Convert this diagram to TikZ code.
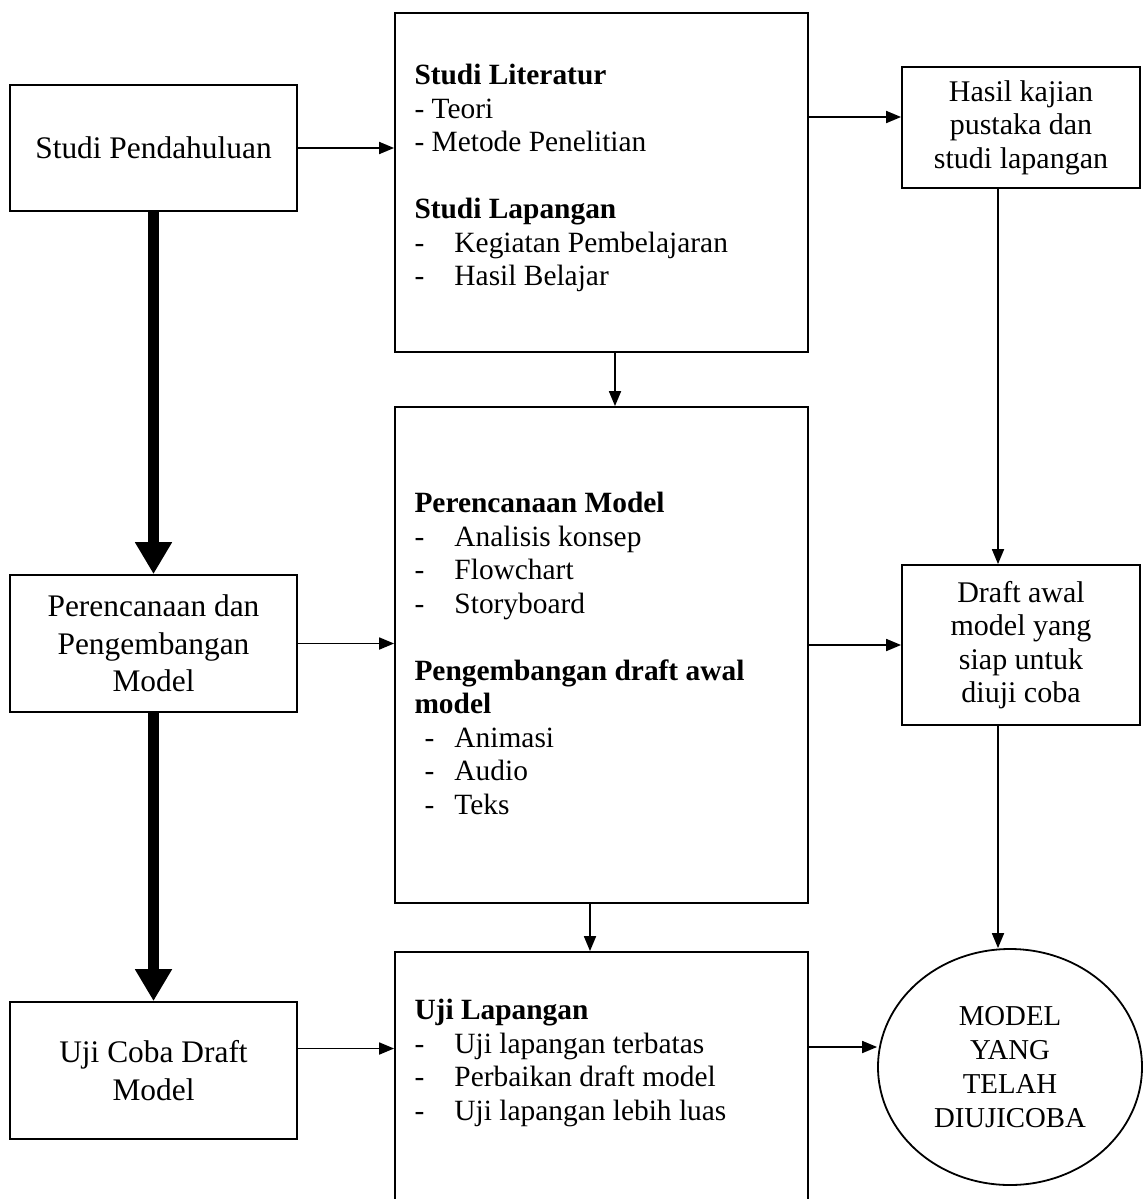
\documentclass[tikz,border=0pt]{standalone}
\usepackage{fontspec}
\setmainfont{Liberation Serif}
\usetikzlibrary{arrows.meta,positioning,shapes.geometric}

\newcommand{\butir}[1]{\makebox[20pt][l]{-}#1}
\newcommand{\butirdalam}[1]{\hspace*{5pt}\makebox[15pt][l]{-}#1}

\begin{document}
\begin{tikzpicture}[x=1pt,y=-1pt,
  kotak/.style={draw,line width=0.9pt,inner sep=0pt,align=center},
  kiri/.style={kotak,minimum width=143.5pt,font=\fontsize{15.7}{18.75}\selectfont},
  tengah/.style={kotak,minimum width=206.5pt},
  kanan/.style={kotak,minimum width=119pt,font=\fontsize{15}{16.75}\selectfont},
  isi/.style={inner sep=0pt,align=left,font=\fontsize{14.7}{16.75}\selectfont},
  panah/.style={line width=0.9pt,-{Triangle[length=7.5pt,width=6pt]}},
  panahtebal/.style={line width=5.5pt,-{Triangle[length=16pt,width=17.5pt]}}]
\useasboundingbox (0,0) rectangle (571.5,599.5);

% kolom kiri
\node[kiri,minimum height=63pt] (pendahuluan) at (76.75,74) {Studi Pendahuluan};
\node[kiri,minimum height=68.5pt] (perencanaan) at (76.75,321.75) {Perencanaan dan\\Pengembangan\\Model};
\node[kiri,minimum height=68.5pt] (ujicoba) at (76.75,535.25) {Uji Coba Draft\\Model};

% kolom tengah
\node[tengah,minimum height=169.5pt] (literatur) at (300.75,91.25) {};
\node[tengah,minimum height=248pt] (rancangan) at (300.75,327.5) {};
\node[tengah,minimum height=131.5pt] (lapangan) at (300.75,541.75) {};
\node[isi,below right=26pt and 10pt of literatur.north west] (isiliteratur) {\textbf{Studi Literatur}\\- Teori\\- Metode Penelitian\\[16.75pt]\textbf{Studi Lapangan}\\\butir{Kegiatan Pembelajaran}\\\butir{Hasil Belajar}};
\node[isi,below right=43pt and 10pt of rancangan.north west] (isirancangan) {\textbf{Perencanaan Model}\\\butir{Analisis konsep}\\\butir{Flowchart}\\\butir{Storyboard}\\[16.75pt]\textbf{Pengembangan draft awal}\\\textbf{model}\\\butirdalam{Animasi}\\\butirdalam{Audio}\\\butirdalam{Teks}};
\node[isi,below right=24pt and 10pt of lapangan.north west] (isilapangan) {\textbf{Uji Lapangan}\\\butir{Uji lapangan terbatas}\\\butir{Perbaikan draft model}\\\butir{Uji lapangan lebih luas}};

% kolom kanan
\node[kanan,minimum height=60.5pt] (kajian) at (510.5,63.75) {Hasil kajian\\pustaka dan\\studi lapangan};
\node[kanan,minimum height=80pt] (draftawal) at (510.5,322.5) {Draft awal\\model yang\\siap untuk\\diuji coba};
\node[draw,ellipse,line width=0.9pt,inner sep=0pt,minimum width=132pt,minimum height=118pt,align=center,font=\fontsize{14.4}{17}\selectfont] (modeljadi) at (505,533.5) {MODEL\\YANG\\TELAH\\DIUJICOBA};

\coordinate (jalurkanan) at (499,0);

% panah
\draw[panah] (pendahuluan.east) -- (pendahuluan.east -| literatur.west);
\draw[panah] ([yshift=5.25pt]kajian.west -| literatur.east) -- ([yshift=5.25pt]kajian.west);
\draw[panah] (kajian.south -| jalurkanan) -- (draftawal.north -| jalurkanan);
\draw[panah] ([xshift=6.75pt]literatur.south) -- ([xshift=6.75pt]rancangan.north);
\draw[panah] (perencanaan.east) -- (perencanaan.east -| rancangan.west);
\draw[panah] (draftawal.west -| rancangan.east) -- (draftawal.west);
\draw[panah] (draftawal.south -| jalurkanan) -- (modeljadi.north -| jalurkanan);
\draw[panah] ([xshift=-5.75pt]rancangan.south) -- ([xshift=-5.75pt]lapangan.north);
\draw[panah] ([yshift=11pt]ujicoba.east) -- ([yshift=11pt]ujicoba.east -| lapangan.west);
\draw[panah] ([yshift=10pt]modeljadi.west -| lapangan.east) -- ([yshift=10pt]modeljadi.west);
\draw[panahtebal] (pendahuluan) -- (perencanaan);
\draw[panahtebal] (perencanaan) -- (ujicoba);
\end{tikzpicture}
\end{document}
